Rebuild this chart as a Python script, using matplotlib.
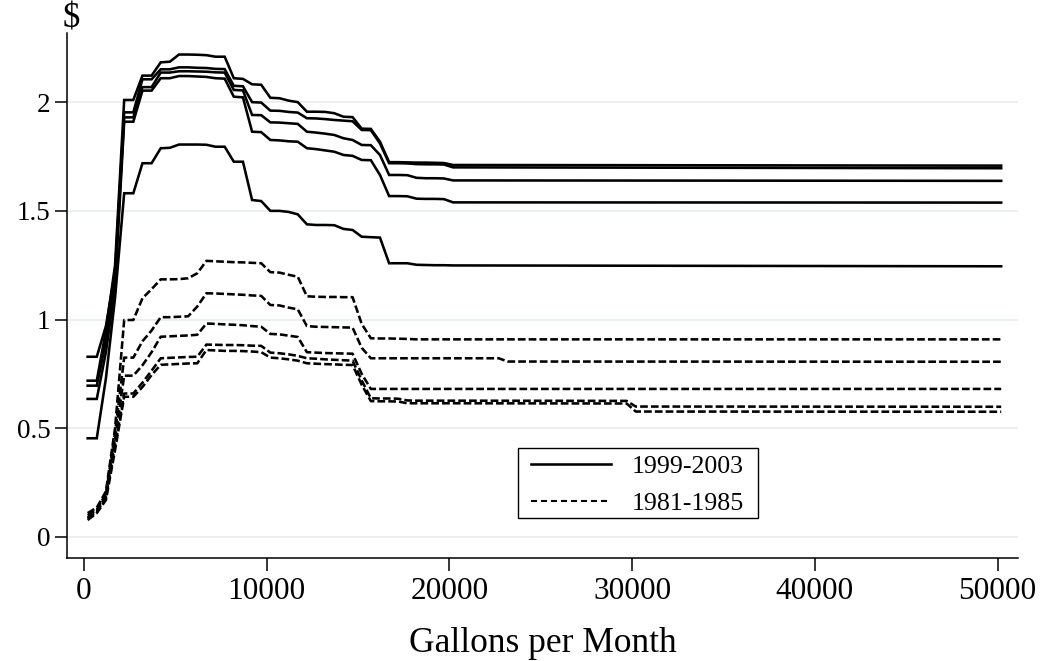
import matplotlib
matplotlib.use("Agg")
import matplotlib.pyplot as plt
from matplotlib.lines import Line2D
from matplotlib.patches import Rectangle

plt.rcParams['font.family'] = ['Liberation Serif', 'DejaVu Serif']

# Gallons per month at which the schedules were evaluated (early, detailed part)
gallons = [200, 700, 1200, 1700, 2200, 2700, 3200, 3700, 4200, 4700,
           5200, 5700, 6200, 6700, 7200, 7700, 8200, 8700, 9200, 9700,
           10200, 10700, 11200, 11700, 12200, 12700, 13200, 13700, 14200, 14700,
           15200, 15700, 16200, 16700, 17200, 17700, 18200, 18700, 19200, 19700,
           20200]

# 1999-2003 (solid)
s1 = [0.719, 0.719, 0.95, 1.25, 2.01, 2.01, 2.122, 2.122, 2.183, 2.186,
      2.219, 2.219, 2.218, 2.216, 2.209, 2.209, 2.11, 2.107, 2.082, 2.08,
      2.02, 2.018, 2.007, 2.0, 1.956, 1.956, 1.955, 1.949, 1.933, 1.931,
      1.878, 1.877, 1.818, 1.724, 1.724, 1.723, 1.722, 1.722, 1.721, 1.72,
      1.711]
s2 = [0.829, 0.829, 0.97, 1.22, 1.953, 1.953, 2.105, 2.105, 2.151, 2.151,
      2.16, 2.16, 2.158, 2.157, 2.153, 2.152, 2.075, 2.073, 2.0, 1.998,
      1.961, 1.96, 1.955, 1.952, 1.926, 1.925, 1.922, 1.918, 1.915, 1.912,
      1.872, 1.871, 1.81, 1.719, 1.719, 1.718, 1.715, 1.714, 1.714, 1.713,
      1.70]
s3 = [0.696, 0.696, 0.9, 1.2, 1.93, 1.93, 2.069, 2.069, 2.136, 2.136,
      2.142, 2.142, 2.141, 2.14, 2.137, 2.136, 2.056, 2.054, 1.941, 1.94,
      1.907, 1.906, 1.903, 1.90, 1.864, 1.86, 1.855, 1.849, 1.834, 1.826,
      1.803, 1.802, 1.757, 1.665, 1.665, 1.664, 1.652, 1.65, 1.65, 1.649,
      1.64]
s4 = [0.635, 0.635, 0.85, 1.15, 1.91, 1.91, 2.053, 2.053, 2.11, 2.11,
      2.12, 2.12, 2.118, 2.116, 2.11, 2.108, 2.025, 2.022, 1.864, 1.862,
      1.826, 1.824, 1.82, 1.818, 1.788, 1.784, 1.778, 1.772, 1.757, 1.753,
      1.734, 1.733, 1.665, 1.568, 1.568, 1.567, 1.556, 1.555, 1.555, 1.554,
      1.539]
s5 = [0.454, 0.454, 0.73, 1.1, 1.581, 1.581, 1.719, 1.719, 1.788, 1.79,
      1.805, 1.805, 1.805, 1.804, 1.795, 1.795, 1.726, 1.726, 1.55, 1.545,
      1.50, 1.50, 1.495, 1.484, 1.438, 1.435, 1.435, 1.434, 1.417, 1.412,
      1.381, 1.379, 1.377, 1.259, 1.259, 1.259, 1.252, 1.251, 1.25, 1.25,
      1.249]

# 1981-1985 (dashed)
d1 = [0.11, 0.135, 0.21, 0.5, 0.998, 0.998, 1.098, 1.14, 1.185, 1.185,
      1.186, 1.19, 1.213, 1.27, 1.268, 1.266, 1.264, 1.263, 1.261, 1.259,
      1.218, 1.216, 1.206, 1.197, 1.107, 1.105, 1.104, 1.104, 1.103, 1.103,
      0.98, 0.914, 0.913, 0.913, 0.912, 0.911, 0.909, 0.909, 0.909, 0.909,
      0.909]
d2 = [0.10, 0.125, 0.20, 0.48, 0.825, 0.825, 0.90, 0.95, 1.011, 1.011,
      1.013, 1.015, 1.06, 1.121, 1.12, 1.118, 1.116, 1.114, 1.111, 1.109,
      1.067, 1.065, 1.055, 1.047, 0.97, 0.967, 0.966, 0.965, 0.964, 0.963,
      0.87, 0.822, 0.822, 0.822, 0.822, 0.822, 0.822, 0.822, 0.822, 0.822,
      0.822]
d3 = [0.09, 0.12, 0.19, 0.45, 0.742, 0.742, 0.79, 0.85, 0.921, 0.923,
      0.925, 0.927, 0.93, 0.982, 0.98, 0.978, 0.976, 0.974, 0.97, 0.967,
      0.934, 0.932, 0.926, 0.92, 0.85, 0.848, 0.846, 0.845, 0.844, 0.843,
      0.75, 0.681, 0.681, 0.681, 0.681, 0.681, 0.681, 0.681, 0.681, 0.681,
      0.681]
d4 = [0.085, 0.115, 0.18, 0.42, 0.66, 0.66, 0.71, 0.765, 0.822, 0.824,
      0.826, 0.828, 0.829, 0.885, 0.884, 0.883, 0.883, 0.882, 0.88, 0.879,
      0.848, 0.845, 0.84, 0.833, 0.822, 0.82, 0.817, 0.815, 0.813, 0.811,
      0.72, 0.638, 0.637, 0.637, 0.636, 0.628, 0.627, 0.627, 0.627, 0.627,
      0.627]
d5 = [0.078, 0.11, 0.17, 0.40, 0.645, 0.645, 0.69, 0.745, 0.792, 0.794,
      0.796, 0.798, 0.799, 0.86, 0.858, 0.856, 0.856, 0.855, 0.853, 0.85,
      0.825, 0.822, 0.817, 0.811, 0.799, 0.797, 0.795, 0.794, 0.792, 0.791,
      0.70, 0.625, 0.624, 0.624, 0.623, 0.615, 0.615, 0.615, 0.615, 0.615,
      0.615]

# Tails beyond 20200 gallons: (gallons, value) vertices
s1_tail = ([50200], [1.708])
s2_tail = ([50200], [1.696])
s3_tail = ([50200], [1.638])
s4_tail = ([50200], [1.538])
s5_tail = ([50200], [1.245])
d1_tail = ([50200], [0.909])
d2_tail = ([22700, 23200, 50200], [0.822, 0.807, 0.806])
d3_tail = ([50200], [0.681])
d4_tail = ([29700, 30200, 50200], [0.626, 0.600, 0.599])
d5_tail = ([29700, 30200, 50200], [0.614, 0.577, 0.576])

solid_series = [(s1, s1_tail), (s2, s2_tail), (s3, s3_tail), (s4, s4_tail), (s5, s5_tail)]
dashed_series = [(d1, d1_tail), (d2, d2_tail), (d3, d3_tail), (d4, d4_tail), (d5, d5_tail)]

legend_labels = ["1999-2003", "1981-1985"]
xticks = [0, 10000, 20000, 30000, 40000, 50000]
yticks = [0, 0.5, 1, 1.5, 2]
ytick_labels = ["0", "0.5", "1", "1.5", "2"]

W, H = 1043, 661
fig = plt.figure(figsize=(W / 100, H / 100), dpi=100)
ax = fig.add_axes([67 / W, 1 - 558 / H, (1018 - 67) / W, (558 - 33) / H])

LW = 1.85
dash = (0, (3.0, 1.2))

for y in yticks:
    ax.axhline(y, color='#eaf0f2', lw=1.4, zorder=0)

for vals, tail in solid_series:
    ax.plot(gallons + tail[0], vals + tail[1], color='black', lw=LW,
            solid_joinstyle='miter', zorder=3)
for vals, tail in dashed_series:
    ax.plot(gallons + tail[0], vals + tail[1], color='black', lw=LW,
            linestyle=dash, zorder=3)

ax.set_xlim(-930, 51120)
ax.set_ylim(-0.0966, 2.318)

for side in ['top', 'right']:
    ax.spines[side].set_visible(False)
for side in ['left', 'bottom']:
    ax.spines[side].set_linewidth(1.1)
    ax.spines[side].set_color('black')

ax.set_xticks(xticks)
ax.set_xticklabels([str(t) for t in xticks])
ax.set_yticks(yticks)
ax.set_yticklabels(ytick_labels)
ax.tick_params(axis='both', direction='out', length=9, width=1.1, colors='black')
ax.tick_params(axis='x', pad=5, labelsize=22.5)
ax.tick_params(axis='y', pad=3, labelsize=19.5)

fig.text(71 / W, 1 - 19 / H, "$", ha='center', va='center', fontsize=25)
fig.text(543 / W, 1 - 644 / H, "Gallons per Month", ha='center', va='center', fontsize=25.5)

# Legend: entries without frame, box drawn at its place in the plot region
handles = [Line2D([], [], color='black', lw=LW),
           Line2D([], [], color='black', lw=1.5, linestyle=(0, (2.9, 1.9)))]
leg = ax.legend(handles, legend_labels, loc='upper left',
                bbox_to_anchor=((531 - 67) / 951, (558 - 454.5) / 525),
                borderaxespad=0, fontsize=18.6, handlelength=3.1,
                handletextpad=0.8, labelspacing=0.57, borderpad=0.0,
                frameon=False)
box = Rectangle(((518 - 67) / 951, (558 - 518) / 525), (758 - 518) / 951, (518 - 448) / 525,
                transform=ax.transAxes, fill=True, facecolor='white',
                edgecolor='black', lw=1.0, zorder=4)
ax.add_patch(box)
leg.set_zorder(5)

fig.savefig("out.png", dpi=100, facecolor='white')
